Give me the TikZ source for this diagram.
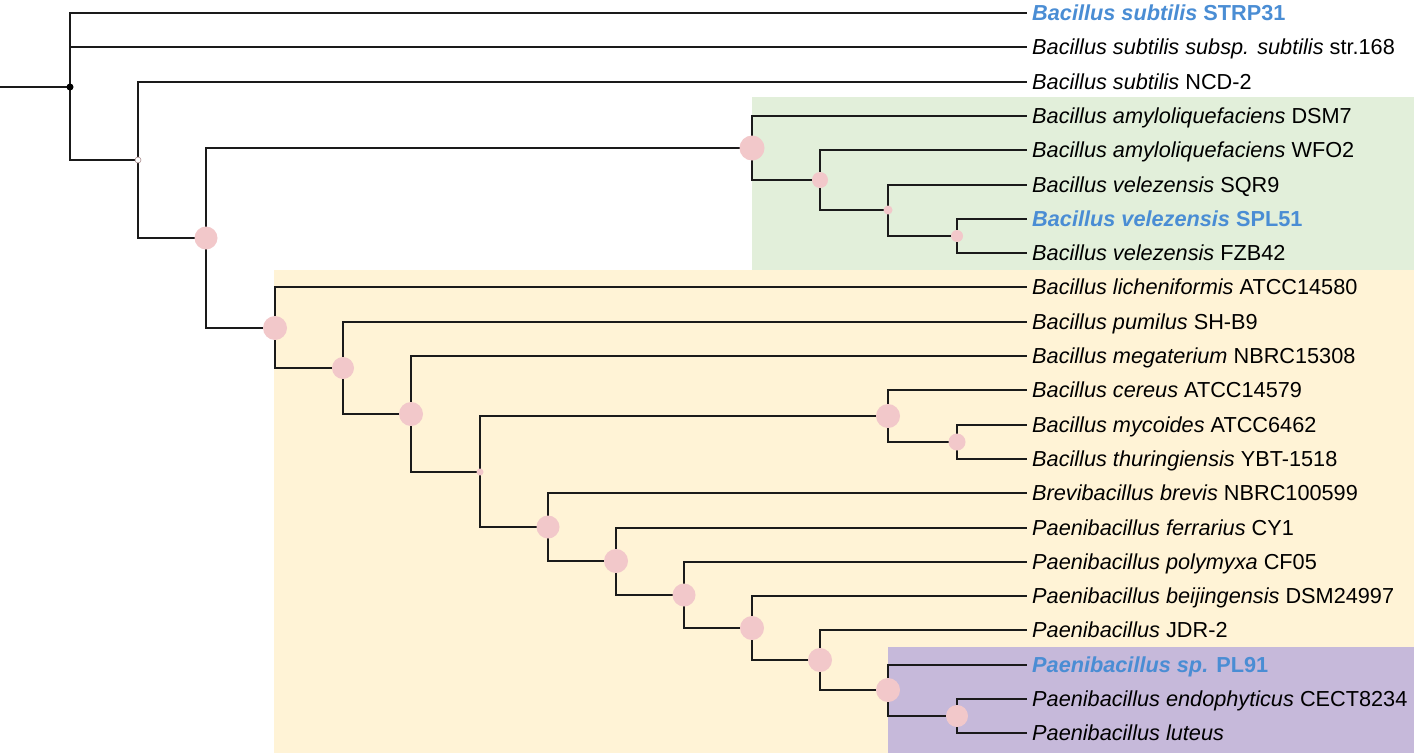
\documentclass[tikz,border=0pt]{standalone}
\usepackage{fontspec}
\setmainfont{Liberation Sans}
\definecolor{pinknode}{HTML}{F2C8CA}
\definecolor{hlblue}{HTML}{4A8DD4}
\definecolor{greenbox}{HTML}{E2EFDA}
\definecolor{yellowbox}{HTML}{FFF3D6}
\definecolor{purplebox}{HTML}{C6B9DA}
\definecolor{edgecol}{HTML}{1A1A1A}
\pgfdeclarelayer{boxes}
\pgfdeclarelayer{edges}
\pgfsetlayers{boxes,edges,main}
\tikzset{
  leaf/.style={anchor=west, inner xsep=5pt, inner ysep=0pt, text height=15.5pt, text depth=0pt,
    font=\fontsize{21.7}{24}\selectfont, text=black},
  hl/.style={leaf, text=hlblue, font=\fontsize{21.7}{24}\selectfont\bfseries},
  dot/.style={circle, fill=pinknode, inner sep=0pt, minimum size=#1},
  rootdot/.style={circle, fill=black, inner sep=0pt, minimum size=7pt},
  opendot/.style={circle, fill=white, draw=pinknode!70!black, line width=0.6pt, inner sep=0pt, minimum size=6pt},
  edge/.style={draw=edgecol, line width=2pt},
}
\begin{document}
\begin{tikzpicture}[x=1pt,y=-1pt]
\useasboundingbox (0,0) rectangle (1416,755);
% leaves
\node[hl]   (L0)  at (1027,13)  {\textit{Bacillus subtilis} STRP31};
\node[leaf] (L1)  at (1027,47)  {\textit{Bacillus subtilis subsp. subtilis} str.168};
\node[leaf] (L2)  at (1027,82)  {\textit{Bacillus subtilis} NCD-2};
\node[leaf] (L3)  at (1027,116) {\textit{Bacillus amyloliquefaciens} DSM7};
\node[leaf] (L4)  at (1027,150) {\textit{Bacillus amyloliquefaciens} WFO2};
\node[leaf] (L5)  at (1027,185) {\textit{Bacillus velezensis} SQR9};
\node[hl]   (L6)  at (1027,219) {\textit{Bacillus velezensis} SPL51};
\node[leaf] (L7)  at (1027,253) {\textit{Bacillus velezensis} FZB42};
\node[leaf] (L8)  at (1027,287) {\textit{Bacillus licheniformis} ATCC14580};
\node[leaf] (L9)  at (1027,322) {\textit{Bacillus pumilus} SH-B9};
\node[leaf] (L10) at (1027,356) {\textit{Bacillus megaterium} NBRC15308};
\node[leaf] (L11) at (1027,390) {\textit{Bacillus cereus} ATCC14579};
\node[leaf] (L12) at (1027,425) {\textit{Bacillus mycoides} ATCC6462};
\node[leaf] (L13) at (1027,459) {\textit{Bacillus thuringiensis} YBT-1518};
\node[leaf] (L14) at (1027,493) {\textit{Brevibacillus brevis} NBRC100599};
\node[leaf] (L15) at (1027,528) {\textit{Paenibacillus ferrarius} CY1};
\node[leaf] (L16) at (1027,562) {\textit{Paenibacillus polymyxa} CF05};
\node[leaf] (L17) at (1027,596) {\textit{Paenibacillus beijingensis} DSM24997};
\node[leaf] (L18) at (1027,630) {\textit{Paenibacillus} JDR-2};
\node[hl]   (L19) at (1027,665) {\textit{Paenibacillus sp.} PL91};
\node[leaf] (L20) at (1027,699) {\textit{Paenibacillus endophyticus} CECT8234};
\node[leaf] (L21) at (1027,733) {\textit{Paenibacillus luteus}};
% internal nodes
\coordinate (rin) at (0,87);
\node[rootdot] (root) at (70,87) {};
\node[opendot] (nNCD) at (138,160) {};
\node[dot=23pt] (nTop) at (206,238) {};
\node[dot=25pt] (nB1) at (752,148) {};
\node[dot=16pt] (nB2) at (820,180) {};
\node[dot=9pt]  (nB3) at (888,210) {};
\node[dot=12pt] (nB4) at (957,236) {};
\node[dot=24pt] (nLic) at (275,328) {};
\node[dot=22pt] (nPum) at (343,368) {};
\node[dot=24pt] (nMeg) at (411,414) {};
\node[dot=7pt]  (nMid) at (480,472) {};
\node[dot=24pt] (nCer1) at (888,416) {};
\node[dot=17pt] (nCer2) at (957,442) {};
\node[dot=23pt] (nBr) at (548,527) {};
\node[dot=24pt] (nP1) at (616,561) {};
\node[dot=23pt] (nP2) at (684,595) {};
\node[dot=24pt] (nP3) at (752,628) {};
\node[dot=24pt] (nP4) at (820,660) {};
\node[dot=24pt] (nP5) at (888,690) {};
\node[dot=22pt] (nP6) at (957,716) {};
% boxes
\begin{pgfonlayer}{boxes}
\fill[greenbox] (752,97) rectangle (1414,270);
\fill[yellowbox] (274,270) rectangle (1414,753);
\fill[purplebox] (888,647) rectangle (1414,753);
\end{pgfonlayer}
% edges
\begin{pgfonlayer}{edges}
\draw[edge] (rin) -- (root.center);
\draw[edge] (root.center) |- (L0.west);
\draw[edge] (root.center) |- (L1.west);
\draw[edge] (root.center) |- (nNCD.center);
\draw[edge] (nNCD.center) |- (L2.west);
\draw[edge] (nNCD.center) |- (nTop.center);
\draw[edge] (nTop.center) |- (nB1.center);
\draw[edge] (nTop.center) |- (nLic.center);
\draw[edge] (nB1.center) |- (L3.west);
\draw[edge] (nB1.center) |- (nB2.center);
\draw[edge] (nB2.center) |- (L4.west);
\draw[edge] (nB2.center) |- (nB3.center);
\draw[edge] (nB3.center) |- (L5.west);
\draw[edge] (nB3.center) |- (nB4.center);
\draw[edge] (nB4.center) |- (L6.west);
\draw[edge] (nB4.center) |- (L7.west);
\draw[edge] (nLic.center) |- (L8.west);
\draw[edge] (nLic.center) |- (nPum.center);
\draw[edge] (nPum.center) |- (L9.west);
\draw[edge] (nPum.center) |- (nMeg.center);
\draw[edge] (nMeg.center) |- (L10.west);
\draw[edge] (nMeg.center) |- (nMid.center);
\draw[edge] (nMid.center) |- (nCer1.center);
\draw[edge] (nMid.center) |- (nBr.center);
\draw[edge] (nCer1.center) |- (L11.west);
\draw[edge] (nCer1.center) |- (nCer2.center);
\draw[edge] (nCer2.center) |- (L12.west);
\draw[edge] (nCer2.center) |- (L13.west);
\draw[edge] (nBr.center) |- (L14.west);
\draw[edge] (nBr.center) |- (nP1.center);
\draw[edge] (nP1.center) |- (L15.west);
\draw[edge] (nP1.center) |- (nP2.center);
\draw[edge] (nP2.center) |- (L16.west);
\draw[edge] (nP2.center) |- (nP3.center);
\draw[edge] (nP3.center) |- (L17.west);
\draw[edge] (nP3.center) |- (nP4.center);
\draw[edge] (nP4.center) |- (L18.west);
\draw[edge] (nP4.center) |- (nP5.center);
\draw[edge] (nP5.center) |- (L19.west);
\draw[edge] (nP5.center) |- (nP6.center);
\draw[edge] (nP6.center) |- (L20.west);
\draw[edge] (nP6.center) |- (L21.west);
\end{pgfonlayer}
\end{tikzpicture}
\end{document}
